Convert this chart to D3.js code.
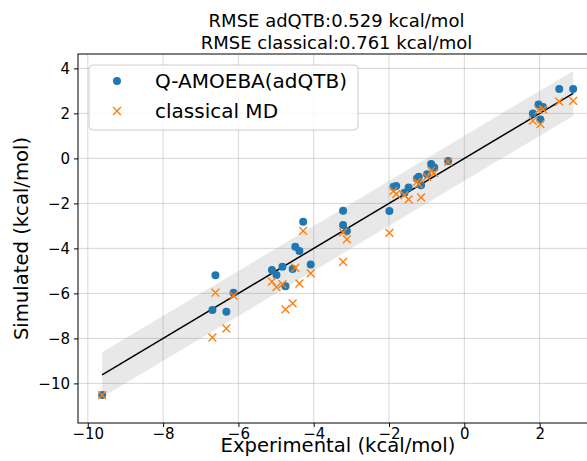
<!DOCTYPE html>
<html>
<head>
<meta charset="utf-8">
<script src="https://cdn.jsdelivr.net/npm/d3@7"></script>
<style>
  body { margin: 0; background: #fff; }
  svg { display: block; font-family: "DejaVu Sans", sans-serif; }
</style>
</head>
<body>
<div id="chart"></div>
<script>
// experimental values (x) with the two simulated series (y)
const experimental = [-9.62, -6.69, -6.61, -6.32, -6.13, -5.11, -4.99, -4.83, -4.75, -4.56,
  -4.49, -4.38, -4.28, -4.08, -3.22, -3.22, -3.12, -1.99, -1.88, -1.81,
  -1.59, -1.48, -1.26, -1.21, -1.15, -0.99, -0.88, -0.80, -0.43, 1.82,
  1.97, 2.09, 2.02, 2.52, 2.89];
const adqtb = [-10.52, -6.74, -5.19, -6.82, -5.97, -4.96, -5.18, -4.82, -5.68, -4.92,
  -3.93, -4.12, -2.82, -4.71, -2.33, -2.96, -3.23, -2.34, -1.26, -1.23,
  -1.53, -1.29, -0.89, -0.82, -1.19, -0.70, -0.25, -0.40, -0.11, 2.00,
  2.40, 2.29, 1.73, 3.08, 3.08];
const classical = [-10.52, -7.96, -5.97, -7.56, -6.10, -5.48, -5.72, -5.59, -6.71, -6.44,
  -4.86, -5.56, -3.22, -5.11, -3.29, -4.60, -3.60, -3.31, -1.44, -1.59,
  -1.63, -1.82, -1.04, -1.14, -1.73, -0.82, -0.55, -0.64, -0.15, 1.67,
  2.15, 2.18, 1.52, 2.52, 2.56];
const xTicks = [-10, -8, -6, -4, -2, 0, 2];
const yTicks = [-10, -8, -6, -4, -2, 0, 2, 4];
const titleLines = ["RMSE adQTB:0.529 kcal/mol", "RMSE classical:0.761 kcal/mol"];
const seriesNames = ["Q-AMOEBA(adQTB)", "classical MD"];
const band = 1.0; // +-1 kcal/mol around y = x

const width = 587, height = 461;
const margins = { top: 54, right: -8, bottom: 38, left: 78 };
const innerWidth = width - margins.left - margins.right;
const innerHeight = height - margins.top - margins.bottom;
const blue = "#1f77b4", orange = "#ff7f0e";
const fmt = (v) => (v < 0 ? "\u2212" + Math.abs(v) : String(v));

const svg = d3.select("#chart").append("svg")
  .attr("width", width)
  .attr("height", height);

const mainG = svg.append("g")
  .attr("transform", `translate(${margins.left},${margins.top})`);

const x = d3.scaleLinear().domain([-10.26, 3.47]).range([0, innerWidth]);
const y = d3.scaleLinear().domain([-11.76, 4.64]).range([innerHeight, 0]);

// grid
mainG.append("g").selectAll("line")
  .data(xTicks)
  .join("line")
  .attr("x1", (d) => x(d)).attr("x2", (d) => x(d))
  .attr("y1", 0).attr("y2", innerHeight)
  .attr("stroke", "#b0b0b0").attr("stroke-opacity", 0.5).attr("stroke-width", 1);
mainG.append("g").selectAll("line")
  .data(yTicks)
  .join("line")
  .attr("x1", 0).attr("x2", innerWidth)
  .attr("y1", (d) => y(d)).attr("y2", (d) => y(d))
  .attr("stroke", "#b0b0b0").attr("stroke-opacity", 0.5).attr("stroke-width", 1);

// band and reference line
const xr = d3.extent(experimental);
mainG.append("path")
  .datum(xr)
  .attr("d", d3.area()
    .x((d) => x(d))
    .y0((d) => y(d - band))
    .y1((d) => y(d + band)))
  .attr("fill", "#808080").attr("fill-opacity", 0.18);

mainG.append("path")
  .datum(xr)
  .attr("d", d3.line().x((d) => x(d)).y((d) => y(d)))
  .attr("stroke", "#000").attr("stroke-width", 1.5).attr("fill", "none");

// points
const pts = experimental.map((e, i) => ({ e, q: adqtb[i], c: classical[i] }));
mainG.append("g").selectAll("circle")
  .data(pts)
  .join("circle")
  .attr("cx", (d) => x(d.e))
  .attr("cy", (d) => y(d.q))
  .attr("r", 4)
  .attr("fill", blue);

const xMark = (s) => `M${-s},${-s}L${s},${s}M${-s},${s}L${s},${-s}`;
mainG.append("g").selectAll("path")
  .data(pts)
  .join("path")
  .attr("transform", (d) => `translate(${x(d.e)},${y(d.c)})`)
  .attr("d", xMark(3.9))
  .attr("stroke", orange).attr("stroke-width", 1.4).attr("fill", "none");

// spines
mainG.append("rect")
  .attr("width", innerWidth).attr("height", innerHeight)
  .attr("fill", "none").attr("stroke", "#000").attr("stroke-width", 1);

// axes
const xAxis = mainG.append("g")
  .attr("transform", `translate(0,${innerHeight})`)
  .call(d3.axisBottom(x).tickValues(xTicks).tickFormat(fmt).tickSize(4).tickPadding(1));
const yAxis = mainG.append("g")
  .call(d3.axisLeft(y).tickValues(yTicks).tickFormat(fmt).tickSize(4).tickPadding(4));
[xAxis, yAxis].forEach((g) => {
  g.select(".domain").remove();
  g.selectAll("text").attr("font-size", "15px").attr("fill", "#000")
    .attr("font-family", "DejaVu Sans, sans-serif");
  g.selectAll("line").attr("stroke", "#000");
});

// axis labels
svg.append("text")
  .attr("x", 338)
  .attr("y", 452)
  .attr("text-anchor", "middle")
  .attr("font-size", "19.6px")
  .text("Experimental (kcal/mol)");

svg.append("text")
  .attr("transform", `translate(28,${margins.top + innerHeight / 2}) rotate(-90)`)
  .attr("text-anchor", "middle")
  .attr("font-size", "19.6px")
  .text("Simulated (kcal/mol)");

// title
svg.append("g").selectAll("text")
  .data(titleLines)
  .join("text")
  .attr("x", 336.5)
  .attr("y", (d, i) => 27 + i * 22)
  .attr("text-anchor", "middle")
  .attr("font-size", "18px")
  .text((d) => d);

// legend
const legend = svg.append("g").attr("transform", "translate(89,65)");
legend.append("rect")
  .attr("width", 269).attr("height", 65).attr("rx", 4)
  .attr("fill", "#fff").attr("fill-opacity", 0.8)
  .attr("stroke", "#ccc").attr("stroke-width", 1);
const items = legend.selectAll("g.item")
  .data(seriesNames)
  .join("g")
  .attr("class", "item")
  .attr("transform", (d, i) => `translate(28,${16 + i * 30})`);
items.filter((d, i) => i === 0).append("circle").attr("r", 4).attr("fill", blue);
items.filter((d, i) => i === 1).append("path").attr("d", xMark(3.9))
  .attr("stroke", orange).attr("stroke-width", 1.4);
items.append("text")
  .attr("x", 38).attr("y", 7)
  .attr("font-size", "20px")
  .text((d) => d);
</script>
</body>
</html>
